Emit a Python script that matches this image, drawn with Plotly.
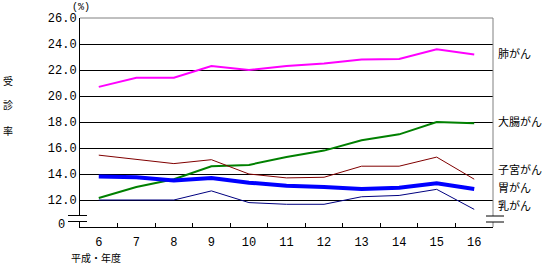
import plotly.graph_objects as go

years = ["6", "7", "8", "9", "10", "11", "12", "13", "14", "15", "16"]
lung = [20.7, 21.4, 21.4, 22.3, 22.0, 22.3, 22.5, 22.8, 22.85, 23.6, 23.2]
colon = [12.15, 13.0, 13.6, 14.6, 14.7, 15.3, 15.8, 16.6, 17.05, 18.0, 17.9]
uterus = [15.45, 15.1, 14.8, 15.1, 14.0, 13.7, 13.75, 14.6, 14.6, 15.3, 13.6]
stomach = [13.8, 13.75, 13.5, 13.7, 13.33, 13.1, 13.0, 12.85, 12.95, 13.28, 12.85]
breast = [12.0, 12.0, 12.0, 12.7, 11.8, 11.67, 11.67, 12.25, 12.35, 12.82, 11.28]

series_names = ["肺がん", "大腸がん", "子宮がん", "胃がん", "乳がん"]
series_vals = [lung, colon, uterus, stomach, breast]
series_colors = ["#ff00ff", "#008000", "#800000", "#0000ff", "#000080"]
series_widths = [2, 2, 1, 4, 1]
label_y = [23.3, 18.1, 14.4, 13.0, 11.65]

ytick_vals = [12, 14, 16, 18, 20, 22, 24, 26]
ytick_text = ["12.0", "14.0", "16.0", "18.0", "20.0", "22.0", "24.0", "26.0"]

L, R, T, B = 80, 54, 18, 39
W, H = 547, 266
PW, PH = W - L - R, H - T - B

def px(x):
    return (x - L) / PW

def py(y):
    return (H - B - y) / PH

fig = go.Figure()
for name, vals, col, lw in zip(series_names, series_vals, series_colors, series_widths):
    fig.add_trace(go.Scatter(x=years, y=vals, mode="lines", name=name,
                             line=dict(color=col, width=lw), showlegend=False))

mono = "Liberation Mono, DejaVu Sans Mono, monospace"
jp = "Noto Sans CJK JP"

fig.update_layout(
    width=W, height=H, margin=dict(l=L, r=R, t=T, b=B),
    paper_bgcolor="white", plot_bgcolor="white",
    xaxis=dict(type="category", range=[-0.5, 10.5], showgrid=False,
               showline=True, linecolor="black", linewidth=1,
               ticks="inside", tickson="boundaries", ticklen=4, tickcolor="black",
               ticklabelstandoff=4,
               tickfont=dict(family=mono, size=12, color="black")),
    yaxis=dict(range=[9.923, 26], tickvals=ytick_vals, ticktext=ytick_text,
               showgrid=True, gridcolor="black", gridwidth=1,
               showline=True, linecolor="black", linewidth=1, ticks="",
               tickfont=dict(family=mono, size=12, color="black"), zeroline=False),
)

# frame top/right in gray
fig.add_shape(type="line", xref="paper", yref="paper", x0=0, x1=1, y0=1, y1=1,
              line=dict(color="#808080", width=1), layer="above")
fig.add_shape(type="line", xref="paper", yref="paper", x0=1, x1=1, y0=0, y1=1,
              line=dict(color="#808080", width=1), layer="above")

# axis break marks
for x0, x1, ya, yb in [(68, 87, 215.5, 221.5), (486, 504, 216, 222)]:
    fig.add_shape(type="rect", xref="paper", yref="paper", x0=px(x0 + 6), x1=px(x1 - 6),
                  y0=py(yb), y1=py(ya), fillcolor="white", line=dict(width=0), layer="above")
    for yy in (ya, yb):
        fig.add_shape(type="line", xref="paper", yref="paper", x0=px(x0), x1=px(x1),
                      y0=py(yy), y1=py(yy), line=dict(color="black", width=1), layer="above")

# "0" label
fig.add_annotation(xref="paper", yref="paper", x=px(67), y=py(225), text="0",
                   showarrow=False, xanchor="right", yanchor="middle",
                   font=dict(family=mono, size=12, color="black"))

# (%) unit
fig.add_annotation(xref="paper", yref="paper", x=px(81), y=py(8), text="(%)",
                   showarrow=False, xanchor="center", yanchor="middle",
                   font=dict(family=mono, size=10, color="black"))

# y title, vertical
for ch, yy in zip(["受", "診", "率"], [80, 105, 130]):
    fig.add_annotation(xref="paper", yref="paper", x=px(8), y=py(yy), text=ch,
                       showarrow=False, xanchor="center", yanchor="middle",
                       font=dict(family=jp, size=10, color="black"))

# x title
fig.add_annotation(xref="paper", yref="paper", x=px(69), y=py(257), text="平成・年度",
                   showarrow=False, xanchor="left", yanchor="middle",
                   font=dict(family=jp, size=10, color="black"))

# series labels
for name, ly in zip(series_names, label_y):
    fig.add_annotation(xref="paper", yref="y", x=px(496), y=ly, text=name,
                       showarrow=False, xanchor="left", yanchor="middle",
                       font=dict(family=jp, size=11, color="black"))

fig.write_html("out.html")
